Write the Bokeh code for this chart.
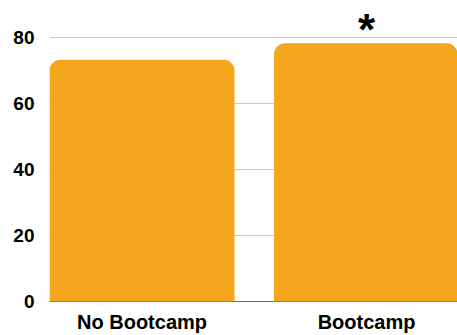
from bokeh.plotting import figure
from bokeh.models import Range1d, FixedTicker, Span
from bokeh.core.properties import value
from bokeh.embed import file_html
from bokeh.resources import INLINE

categories = ["No Bootcamp", "Bootcamp"]
values = [73.2, 78.2]
markers = ["", "*"]
y_ticks = [0, 20, 40, 60, 80]

xs = [i + 0.5 for i in range(len(categories))]

p = figure(width=457, height=335, output_backend="svg", toolbar_location=None,
           x_range=Range1d(0.088, 1.905), y_range=Range1d(-0.3, 91.13),
           min_border_left=49, min_border_right=0, min_border_top=0, min_border_bottom=31)
p.outline_line_color = None
p.background_fill_color = "white"
p.border_fill_color = "white"

p.add_layout(Span(location=0, dimension="width", line_color="#666666", line_width=1,
                  level="underlay"))

p.vbar(x=xs, top=values, width=0.824, bottom=0, fill_color="#F4A61C",
       line_color=None, border_radius=(11, 11, 0, 0))

p.add_layout(Span(location=0, dimension="width", line_color="#666666", line_width=1,
                  line_alpha=0.18))

p.text(x=[xs[1]], y=[values[1] + 4.3], text=[markers[1]], text_align="center",
       text_baseline="alphabetic", text_font=value("Liberation Sans"),
       text_font_style="bold", text_font_size="44px", text_color="black")

p.xgrid.grid_line_color = None
p.ygrid.grid_line_color = "#c8c8c8"
p.ygrid.ticker = FixedTicker(ticks=y_ticks[1:])
p.ygrid.level = "underlay"

p.yaxis.ticker = FixedTicker(ticks=y_ticks)
p.yaxis.axis_line_color = None
p.yaxis.major_tick_line_color = None
p.yaxis.minor_tick_line_color = None
p.yaxis.major_tick_out = 0
p.yaxis.major_tick_in = 0
p.yaxis.major_label_standoff = 15
p.yaxis.major_label_text_font = "Liberation Sans"
p.yaxis.major_label_text_font_style = "bold"
p.yaxis.major_label_text_font_size = "19px"
p.yaxis.major_label_text_color = "black"

p.xaxis.ticker = FixedTicker(ticks=xs)
p.xaxis.major_label_overrides = {x: c for x, c in zip(xs, categories)}
p.xaxis.axis_line_color = None
p.xaxis.major_tick_line_color = None
p.xaxis.minor_tick_line_color = None
p.xaxis.major_tick_out = 0
p.xaxis.major_tick_in = 0
p.xaxis.major_label_standoff = 8
p.xaxis.major_label_text_font = "Liberation Sans"
p.xaxis.major_label_text_font_style = "bold"
p.xaxis.major_label_text_font_size = "20px"
p.xaxis.major_label_text_color = "black"

open("out.html", "w").write(file_html(p, INLINE))
